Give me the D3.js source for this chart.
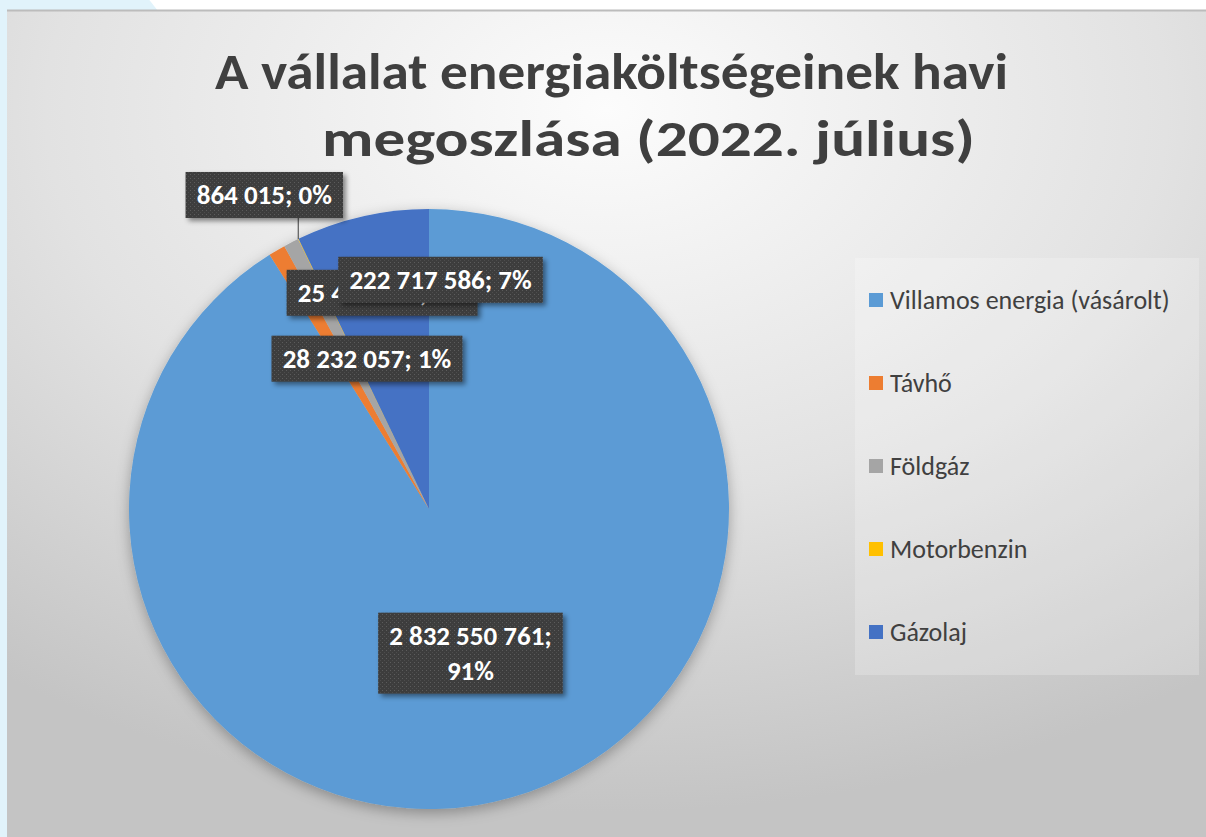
<!DOCTYPE html>
<html>
<head>
<meta charset="utf-8">
<script src="https://cdn.jsdelivr.net/npm/d3@7"></script>
<style>
  html, body { margin: 0; padding: 0; background: #fff; overflow: hidden; }
  svg { display: block; }
</style>
</head>
<body>
<svg id="canvas"></svg>
<script>
// chart data
const categories = ["Villamos energia (vásárolt)", "Távhő", "Földgáz", "Motorbenzin", "Gázolaj"];
const values = [2832550761, 28232057, 25413842, 864015, 222717586];
const colors = ["#5b9bd5", "#ed7d31", "#a5a5a5", "#ffc000", "#4472c4"];
const titleLines = ["A vállalat energiaköltségeinek havi", "megoszlása (2022. július)"];

// label placement (moved by hand in the original): offset from slice centroid, or from rim for leader labels
const labelPlace = [
  { at: "centroid", dx: 0, dy: 0 },
  { at: "centroid", dx: 14, dy: -21 },
  { at: "centroid", dx: 22, dy: -83 },
  { at: "rim", dx: -34, dy: -44 },
  { at: "centroid", dx: 45, dy: -83 },
];

const width = 1206;
const height = 837;
const cx = 429;
const cy = 509;
const radius = 300;
const font = "Carlito, Lato, 'Open Sans', sans-serif";

const huLocale = d3.formatLocale({ decimal: ",", thousands: "\u00a0", grouping: [3], currency: ["", ""] });
const fmt = huLocale.format(",d");
const total = d3.sum(values);

const data = categories.map((c, i) => ({ name: c, value: values[i], color: colors[i], place: labelPlace[i] }));

const svg = d3.select("#canvas").attr("width", width).attr("height", height);
const defs = svg.append("defs");

// panel gradient
const grad = defs.append("radialGradient").attr("id", "panelGrad")
  .attr("cx", "50%").attr("cy", "12%").attr("r", "85%");
grad.append("stop").attr("offset", "0%").attr("stop-color", "#fcfcfc");
grad.append("stop").attr("offset", "55%").attr("stop-color", "#e2e2e2");
grad.append("stop").attr("offset", "100%").attr("stop-color", "#c4c4c4");

const pieShadow = defs.append("filter").attr("id", "pieShadow")
  .attr("x", "-20%").attr("y", "-20%").attr("width", "140%").attr("height", "140%");
pieShadow.append("feDropShadow").attr("dx", 0).attr("dy", 4).attr("stdDeviation", 7)
  .attr("flood-color", "#000").attr("flood-opacity", 0.3);

const boxShadow = defs.append("filter").attr("id", "boxShadow")
  .attr("x", "-20%").attr("y", "-30%").attr("width", "140%").attr("height", "160%");
boxShadow.append("feDropShadow").attr("dx", 3).attr("dy", 3).attr("stdDeviation", 2.5)
  .attr("flood-color", "#000").attr("flood-opacity", 0.45);

const dots = defs.append("pattern").attr("id", "dots")
  .attr("width", 4).attr("height", 4).attr("patternUnits", "userSpaceOnUse");
dots.append("rect").attr("width", 4).attr("height", 4).attr("fill", "#3d3d3d");
dots.append("rect").attr("x", 1).attr("y", 1).attr("width", 1).attr("height", 1).attr("fill", "#5c5c5c");
dots.append("rect").attr("x", 3).attr("y", 3).attr("width", 1).attr("height", 1).attr("fill", "#4e4e4e");

// page background
svg.append("rect").attr("width", width).attr("height", height).attr("fill", "#fff");
svg.append("circle").attr("cx", -600).attr("cy", 600).attr("r", 960).attr("fill", "#e1f3fb");

// chart panel
svg.append("rect").attr("x", 7).attr("y", 10).attr("width", width - 7).attr("height", height - 10)
  .attr("fill", "url(#panelGrad)");
svg.append("line").attr("x1", 7).attr("x2", width).attr("y1", 10.5).attr("y2", 10.5)
  .attr("stroke", "#bcbcbc").attr("stroke-width", 2);

// title
const titleX = [215, 322];
const titleW = [793, 653];
svg.append("g").selectAll("text").data(titleLines).join("text")
  .attr("x", (d, i) => titleX[i])
  .attr("y", (d, i) => 89 + i * 67)
  .attr("textLength", (d, i) => titleW[i])
  .attr("lengthAdjust", "spacingAndGlyphs")
  .attr("font-family", font).attr("font-weight", 700).attr("font-size", 51)
  .attr("fill", "#3f3f3f")
  .text((d) => d);

// pie
const pie = d3.pie().value((d) => d.value).sort(null);
const arcs = pie(data);
const arc = d3.arc().innerRadius(0).outerRadius(radius);

const pieG = svg.append("g").attr("transform", `translate(${cx},${cy})`);
pieG.append("g").attr("filter", "url(#pieShadow)")
  .selectAll("path").data(arcs).join("path")
  .attr("d", arc)
  .attr("fill", (d) => d.data.color);

// data labels
const lineH = 35;
const labelG = pieG.append("g");
arcs.forEach((a) => {
  const p = a.data.place;
  const mid = (a.startAngle + a.endAngle) / 2;
  const rim = [radius * Math.sin(mid), -radius * Math.cos(mid)];
  const base = p.at === "rim" ? rim : arc.centroid(a);
  const lx = base[0] + p.dx;
  const ly = base[1] + p.dy;
  const pct = Math.round((a.data.value / total) * 100) + "%";
  const lines = a.index === 0
    ? [fmt(a.data.value) + ";", pct]
    : [fmt(a.data.value) + "; " + pct];

  const g = labelG.append("g");
  const txt = g.append("text")
    .attr("font-family", font).attr("font-weight", 700).attr("font-size", 27)
    .attr("fill", "#fff").attr("text-anchor", "middle");
  txt.selectAll("tspan").data(lines).join("tspan")
    .attr("x", lx)
    .attr("y", (d, i) => ly + 9.5 + (i - (lines.length - 1) / 2) * lineH)
    .text((d) => d);
  const bb = txt.node().getBBox();
  const boxW = bb.width + 22;
  const boxH = lines.length * lineH + 11;
  g.insert("rect", "text")
    .attr("x", lx - boxW / 2).attr("y", ly - boxH / 2)
    .attr("width", boxW).attr("height", boxH)
    .attr("fill", "url(#dots)")
    .attr("filter", "url(#boxShadow)");

  if (p.at === "rim") {
    labelG.insert("line", ":first-child")
      .attr("x1", rim[0]).attr("y1", rim[1])
      .attr("x2", rim[0]).attr("y2", ly + boxH / 2)
      .attr("stroke", "#595959").attr("stroke-width", 1.2);
  }
});

// legend
const legendX = 855;
const legendY = 258;
const legend = svg.append("g");
legend.append("rect").attr("x", legendX).attr("y", legendY).attr("width", 344).attr("height", 417)
  .attr("fill", "#fff").attr("fill-opacity", 0.22);
const legY = d3.scalePoint().domain(categories).range([300, 632]);
const items = legend.selectAll("g.item").data(data).join("g").attr("class", "item")
  .attr("transform", (d) => `translate(${legendX + 14},${legY(d.name)})`);
items.append("rect").attr("x", 0).attr("y", -7).attr("width", 14).attr("height", 14)
  .attr("fill", (d) => d.color);
items.append("text").attr("x", 21).attr("y", 9)
  .attr("font-family", font).attr("font-size", 26).attr("fill", "#404040")
  .text((d) => d.name);
</script>
</body>
</html>
